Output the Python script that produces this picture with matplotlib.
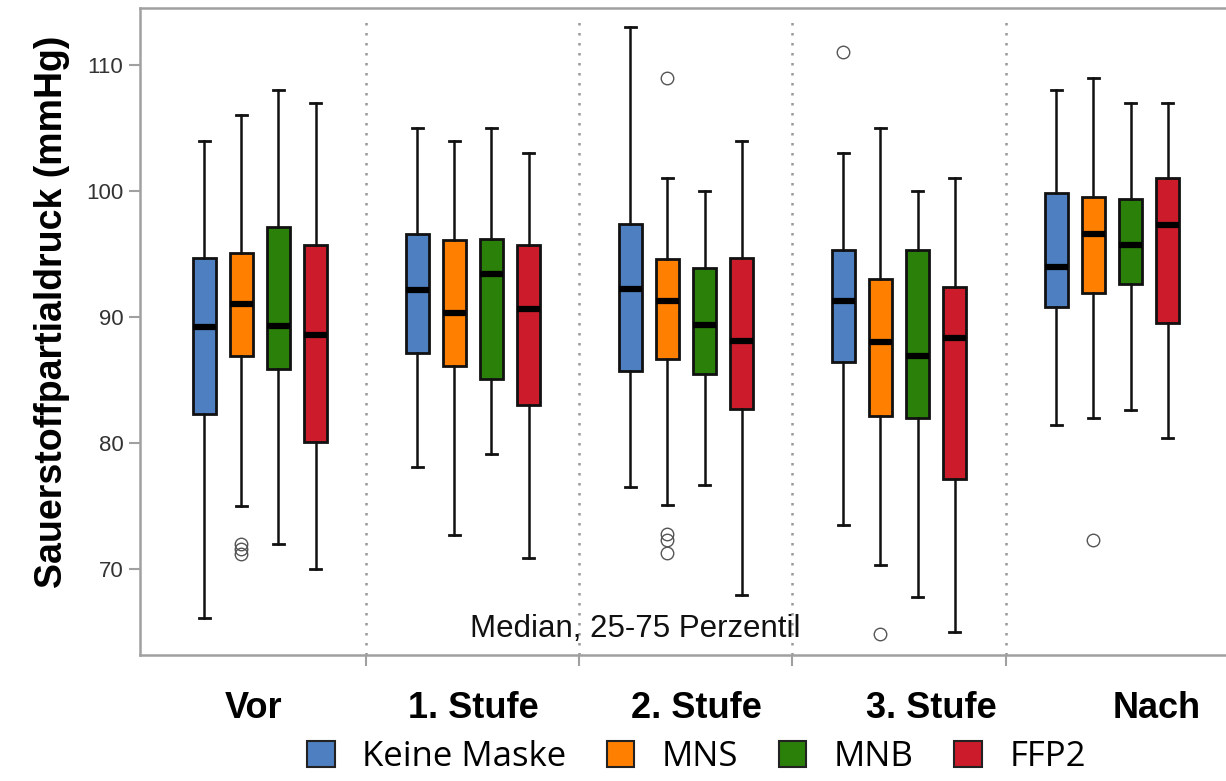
import numpy as np
import matplotlib
matplotlib.use("Agg")
import matplotlib.pyplot as plt
from matplotlib.patches import Patch

# phases (x groups) and mask types
phases = ["Vor", "1. Stufe", "2. Stufe", "3. Stufe", "Nach"]
masks = ["Keine Maske", "MNS", "MNB", "FFP2"]
colors = ["#4e7fc0", "#ff8000", "#2b800a", "#cc1c2c"]

# per mask: whisker high, q3, median, q1, whisker low (one value per phase)
hi_keine = [104.0, 105.0, 113.0, 103.0, 108.0]
q3_keine = [94.7, 96.6, 97.4, 95.3, 99.8]
med_keine = [89.2, 92.1, 92.2, 91.3, 94.0]
q1_keine = [82.3, 87.1, 85.7, 86.4, 90.8]
lo_keine = [66.1, 78.1, 76.5, 73.5, 81.4]
out_keine = [[], [], [], [111.0], []]

hi_mns = [106.0, 104.0, 101.0, 105.0, 109.0]
q3_mns = [95.1, 96.1, 94.6, 93.0, 99.5]
med_mns = [91.0, 90.3, 91.3, 88.0, 96.6]
q1_mns = [86.9, 86.1, 86.7, 82.1, 91.9]
lo_mns = [75.0, 72.7, 75.1, 70.3, 82.0]
out_mns = [[72.0, 71.6, 71.2], [], [109.0, 72.8, 72.3, 71.3], [64.8], [72.3]]

hi_mnb = [108.0, 105.0, 100.0, 100.0, 107.0]
q3_mnb = [97.1, 96.2, 93.9, 95.3, 99.4]
med_mnb = [89.3, 93.4, 89.4, 86.9, 95.7]
q1_mnb = [85.9, 85.1, 85.5, 82.0, 92.6]
lo_mnb = [72.0, 79.1, 76.7, 67.8, 82.6]
out_mnb = [[], [], [], [], []]

hi_ffp2 = [107.0, 103.0, 104.0, 101.0, 107.0]
q3_ffp2 = [95.7, 95.7, 94.7, 92.4, 101.0]
med_ffp2 = [88.6, 90.6, 88.1, 88.3, 97.3]
q1_ffp2 = [80.1, 83.0, 82.7, 77.1, 89.5]
lo_ffp2 = [70.0, 70.9, 67.9, 65.0, 80.4]
out_ffp2 = [[], [], [], [], []]

series = [
    (hi_keine, q3_keine, med_keine, q1_keine, lo_keine, out_keine),
    (hi_mns, q3_mns, med_mns, q1_mns, lo_mns, out_mns),
    (hi_mnb, q3_mnb, med_mnb, q1_mnb, lo_mnb, out_mnb),
    (hi_ffp2, q3_ffp2, med_ffp2, q1_ffp2, lo_ffp2, out_ffp2),
]

fig = plt.figure(figsize=(12.26, 7.81), dpi=100)
ax = fig.add_axes([140 / 1226, 1 - 655 / 781, 1 - 140 / 1226, (655 - 8) / 781])

step = 0.174
offsets = (np.arange(4) - 1.5) * step
gray = "#a0a0a0"

for m in range(4):
    hi, q3, med, q1, lo, out = series[m]
    stats = []
    for p in range(len(phases)):
        stats.append({"med": med[p], "q1": q1[p], "q3": q3[p],
                      "whislo": lo[p], "whishi": hi[p], "fliers": out[p]})
    pos = np.arange(len(phases)) + offsets[m]
    ax.bxp(stats, positions=pos, widths=0.108, patch_artist=True,
           showfliers=True, capwidths=0.05,
           boxprops=dict(facecolor=colors[m], edgecolor="#111111", linewidth=2.0),
           medianprops=dict(color="black", linewidth=4.5, solid_capstyle="butt"),
           whiskerprops=dict(color="#111111", linewidth=1.8),
           capprops=dict(color="#111111", linewidth=2.0),
           flierprops=dict(marker="o", markerfacecolor="none",
                           markeredgecolor="#555555", markersize=9,
                           markeredgewidth=1.0))

ax.set_xlim(-0.563, 4.535)
ax.set_ylim(63.17, 114.52)

# dotted separators between phases
for b in np.arange(0.5, 4, 1.0):
    ax.plot([b, b], [63.17, 113.9], color="#999999", linestyle=(0, (1, 3)),
            linewidth=1.8, zorder=0.5)

ax.set_xticks(np.arange(0.5, 4, 1.0))
ax.set_xticklabels([])
ax.set_yticks([70, 80, 90, 100, 110])
ax.tick_params(axis="x", direction="out", length=8, width=1.5, color=gray)
ax.tick_params(axis="y", direction="out", length=8, width=1.5, color=gray,
               labelsize=16, labelcolor="#333333", pad=4)
for lab in ax.get_yticklabels():
    lab.set_family("Liberation Sans")
for s in ["left", "bottom", "top"]:
    ax.spines[s].set_color(gray)
    ax.spines[s].set_linewidth(1.8)
ax.spines["right"].set_visible(False)

ax.set_ylabel("Sauerstoffpartialdruck (mmHg)", fontsize=27, fontweight="bold",
              family="Liberation Sans", va="center")
ax.yaxis.set_label_coords(-0.081, 0.53)

# phase labels below axis
label_x = [-0.03, 1.0, 2.05, 3.15, 4.21]
for i, name in enumerate(phases):
    fig.text((260 + 213 * label_x[i]) / 1226, 1 - 709 / 781, name,
             ha="center", va="center", fontsize=26, fontweight="bold",
             family="Liberation Sans")

ax.text(1.763, 65.2, "Median, 25-75 Perzentil", ha="center", va="center",
        fontsize=22.5, family="Liberation Sans", color="#111111")

handles = [Patch(facecolor=c, edgecolor="#222222", linewidth=1.5) for c in colors]
fig.legend(handles, masks, loc="center", bbox_to_anchor=(0.568, 1 - 757 / 781),
           ncol=4, frameon=False, prop={"family": "Open Sans", "size": 25},
           handlelength=0.8, handleheight=0.8, handletextpad=0.8,
           columnspacing=1.15, borderpad=0)

fig.savefig("out.png", dpi=100)
